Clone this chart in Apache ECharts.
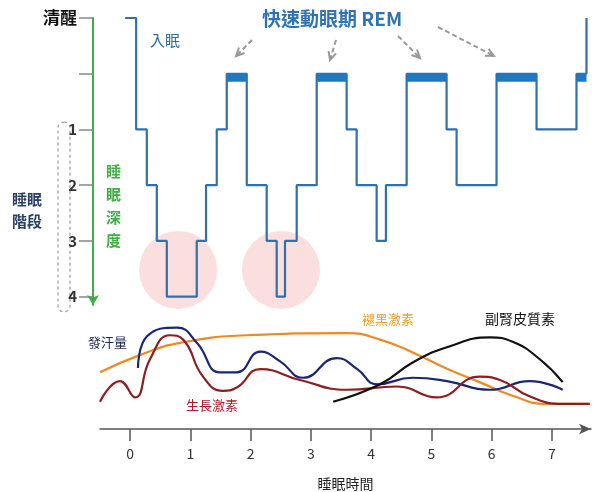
<!DOCTYPE html>
<html><head><meta charset="utf-8">
<script src="https://cdn.jsdelivr.net/npm/echarts@6/dist/echarts.min.js"></script>
<style>html,body{margin:0;padding:0;background:#fff}#c{width:600px;height:492px}</style>
</head><body><div id="c"></div>
<script>
// hypnogram: [start hour, level] ; level -1 = 清醒, 0 = REM, 1..4 = stages
const hypnogram = [[-0.083,-1],[0.10,1],[0.277,2],[0.443,3],[0.609,4],[1.106,3],[1.26,2],[1.438,1],[1.604,0],[1.936,2],[2.267,3],[2.433,4],[2.571,3],[2.765,2],[3.097,0],[3.594,1],[3.76,2],[4.092,3],[4.246,2],[4.59,0],[5.253,1],[5.419,2],[6.082,0],[6.746,1],[7.409,0],[7.575,-1]];
const remPeriods = [[1.604,1.936],[3.097,3.594],[4.59,5.253],[6.082,6.746],[7.409,7.575]];
const deepCircles = [[0.796,3.52],[2.504,3.52]];
const melatonin = [[-0.5,52],[0.17,68],[0.83,79],[1.94,86],[3.6,88],[4.15,82],[4.7,70],[5.27,55],[5.8,43],[6.37,30],[6.92,23],[7.63,23]];
const sweat = [[0.13,56],[0.28,85],[0.78,93],[1.11,79],[1.49,52],[1.77,52],[2.16,71],[2.49,62],[2.87,47],[3.43,65],[3.77,55],[4.1,41],[4.69,47],[5.26,44],[5.97,36],[6.63,44],[7.18,36]];
const growth = [[-0.5,25],[-0.17,44],[0.08,29],[0.33,64],[0.66,86],[0.88,82],[1.21,48],[1.54,35],[1.77,38],[2.16,55],[2.82,45],[3.6,36],[4.43,39],[5.09,29],[5.8,48],[6.14,45],[6.63,30],[7.18,23],[7.63,23]];
const cortisol = [[3.37,25],[4.15,41],[4.69,61],[5.26,75],[5.97,84],[6.35,80],[6.8,64],[7.18,43]];
const hourTicks = [0,1,2,3,4,5,6,7];
const stageLabels = {"-1":"清醒","1":"1","2":"2","3":"3","4":"4"};

const remData = [];
remPeriods.forEach(p=>{remData.push([p[0],0.07]);remData.push([p[1],0.07]);remData.push('-');});

function arrow(x1,y1,x2,y2){
  const a=Math.atan2(y2-y1,x2-x1), L=9, w=0.45;
  return [
    {type:'line',shape:{x1,y1,x2,y2},style:{stroke:'#999',lineWidth:2,lineDash:[5,3]}},
    {type:'polyline',shape:{points:[[x2-L*Math.cos(a-w),y2-L*Math.sin(a-w)],[x2,y2],[x2-L*Math.cos(a+w),y2-L*Math.sin(a+w)]]},style:{stroke:'#999',lineWidth:2,fill:null}}
  ];
}
const ff = '"Noto Sans CJK TC","Noto Sans CJK SC",sans-serif';
const chart = echarts.init(document.getElementById('c'));
chart.setOption({
  animation:false,
  textStyle:{fontFamily:ff},
  grid:[{left:100,width:491,top:18,height:287},{left:100,width:491,top:320,height:110}],
  xAxis:[
    {gridIndex:0,type:'value',min:-0.5,max:7.65,show:false},
    {gridIndex:1,type:'value',min:-0.5,max:7.65,splitLine:{show:false},
     axisLine:{lineStyle:{color:'#555',width:1.5},symbol:['none','arrow'],symbolSize:[8,12]},
     axisTick:{customValues:hourTicks,length:12,lineStyle:{color:'#555',width:1.5}},
     axisLabel:{customValues:hourTicks,margin:18,fontSize:14,color:'#333'},
     name:'睡眠時間',nameLocation:'middle',nameGap:48,nameTextStyle:{fontSize:14,color:'#222'}}
  ],
  yAxis:[
    {gridIndex:0,type:'value',min:-1,max:4.15,interval:1,inverse:true,offset:7,
     splitLine:{show:false},
     axisLine:{show:true,onZero:false,lineStyle:{color:'#3cb043',width:2},symbol:['arrow','none'],symbolSize:[9,10]},
     axisTick:{length:14,lineStyle:{color:'#888',width:1.5}},
     axisLabel:{showMaxLabel:false,margin:16,color:'#333',fontWeight:'bold',fontSize:15,
       formatter:v=>{const s=stageLabels[String(Math.round(v))];if(s==='清醒')return '{a|清醒}';return s||'';},
       rich:{a:{fontSize:17,fontWeight:'bold',color:'#111'}}}},
    {gridIndex:1,type:'value',min:0,max:100,show:false}
  ],
  series:[
    {type:'scatter',xAxisIndex:0,yAxisIndex:0,data:deepCircles,symbolSize:78,itemStyle:{color:'rgba(240,140,140,0.35)'},z:1,silent:true},
    {type:'line',xAxisIndex:0,yAxisIndex:0,data:hypnogram,step:'end',showSymbol:false,lineStyle:{color:'#3470a8',width:2.2},z:3},
    {type:'line',xAxisIndex:0,yAxisIndex:0,data:remData,showSymbol:false,connectNulls:false,lineStyle:{color:'#1f78c0',width:8,cap:'butt'},z:4},
    {type:'line',xAxisIndex:1,yAxisIndex:1,data:melatonin,smooth:0.5,showSymbol:false,lineStyle:{color:'#ee8a22',width:2.2}},
    {type:'line',xAxisIndex:1,yAxisIndex:1,data:sweat,smooth:0.5,showSymbol:false,lineStyle:{color:'#1c2678',width:2.2}},
    {type:'line',xAxisIndex:1,yAxisIndex:1,data:growth,smooth:0.5,showSymbol:false,lineStyle:{color:'#8e1d22',width:2.2}},
    {type:'line',xAxisIndex:1,yAxisIndex:1,data:cortisol,smooth:0.5,showSymbol:false,lineStyle:{color:'#111',width:2.2}}
  ],
  graphic:[
    {type:'rect',shape:{x:58,y:122,width:12,height:190,r:6},style:{fill:null,stroke:'#999',lineDash:[3,3],lineWidth:1.2}},
    {type:'text',left:12,top:188,style:{text:'睡眠\n階段',fontSize:15,fontWeight:'bold',fill:'#2a3f66',lineHeight:22,fontFamily:ff}},
    {type:'text',left:106,top:160,style:{text:'睡\n眠\n深\n度',fontSize:15,fontWeight:'bold',fill:'#3cb043',lineHeight:23,fontFamily:ff}},
    {type:'text',left:150,top:33,style:{text:'入眠',fontSize:15,fill:'#2e6da4',fontFamily:ff}},
    {type:'text',left:262,top:9,style:{text:'快速動眼期 REM',fontSize:19,fontWeight:'bold',fill:'#2e74b5',fontFamily:ff}},
    ...arrow(252,40,236,56),...arrow(336,40,330,60),...arrow(398,36,420,58),...arrow(438,27,494,56),
    {type:'text',left:88,top:336,style:{text:'發汗量',fontSize:13,fill:'#1c2650',fontFamily:ff}},
    {type:'text',left:362,top:313,style:{text:'褪黑激素',fontSize:13,fill:'#e8a030',fontFamily:ff}},
    {type:'text',left:485,top:312,style:{text:'副腎皮質素',fontSize:14,fill:'#111',fontFamily:ff}},
    {type:'text',left:186,top:399,style:{text:'生長激素',fontSize:13,fill:'#b01c2c',fontFamily:ff}}
  ]
});
</script></body></html>
